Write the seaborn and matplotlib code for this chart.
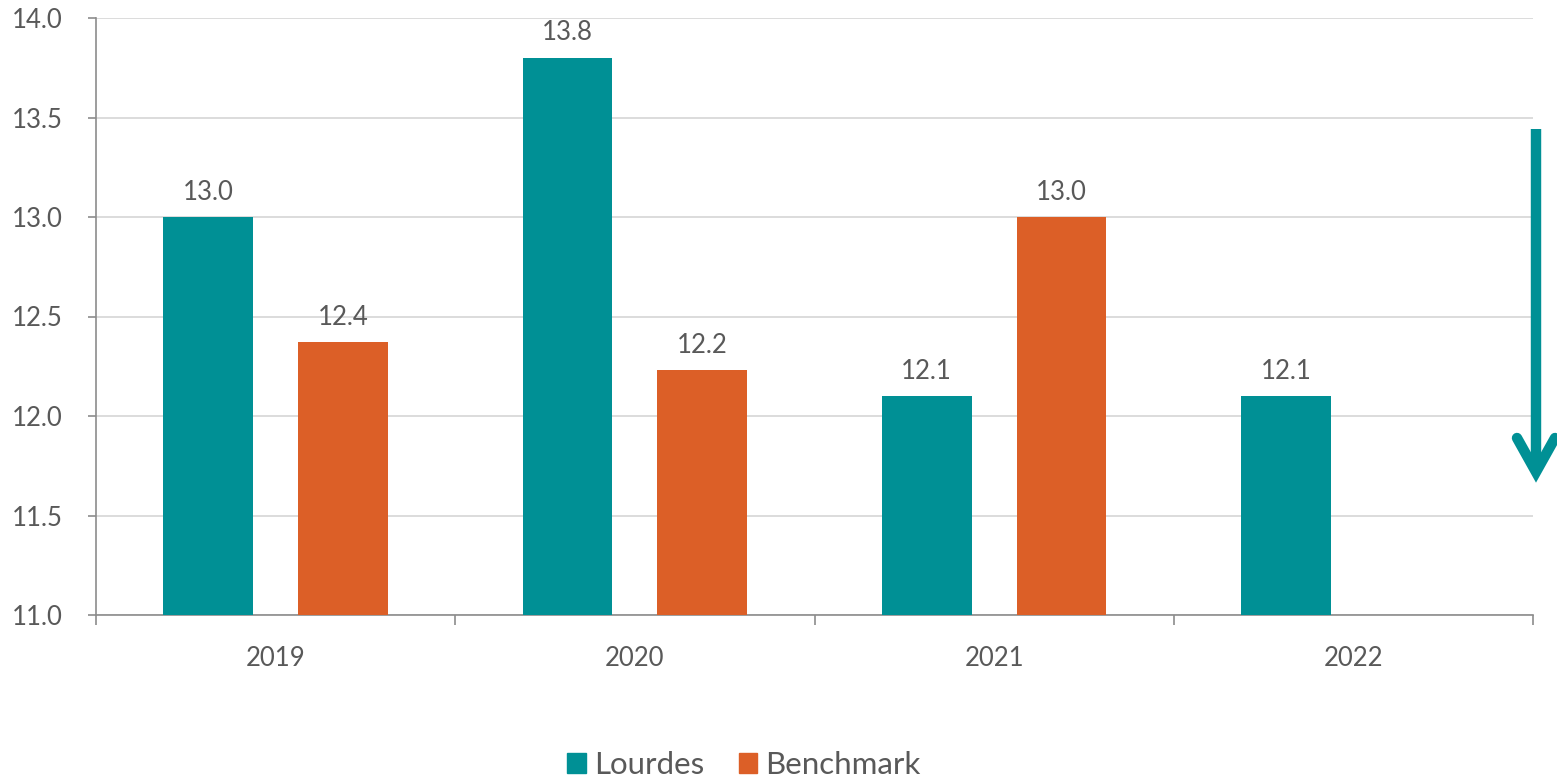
import numpy as np
import pandas as pd
import seaborn as sns
import matplotlib
matplotlib.use("Agg")
import matplotlib.pyplot as plt
from matplotlib.lines import Line2D
from matplotlib.ticker import FixedLocator, FormatStrFormatter

# Data
years = ["2019", "2020", "2021", "2022"]
lourdes = [13.0, 13.8, 12.1, 12.1]
benchmark = [12.37, 12.23, 13.0, np.nan]
series_names = ["Lourdes", "Benchmark"]
colors = ["#009095", "#DC5F27"]

df = pd.DataFrame({
    "year": years * 2,
    "value": lourdes + benchmark,
    "series": [series_names[0]] * 4 + [series_names[1]] * 4,
})

sns.set_theme(style="white")
plt.rcParams["font.family"] = ["Lato", "DejaVu Sans"]
text_color = "#595959"
axis_color = "#8C8C8C"

W, H = 1557, 778
fig = plt.figure(figsize=(W / 100, H / 100), dpi=100)
ax = fig.add_axes([96 / W, 1 - 615 / H, (1533 - 96) / W, (615 - 18) / H])

sns.barplot(data=df, x="year", y="value", hue="series", order=years,
            hue_order=series_names, palette=colors, width=0.75, gap=1 / 3,
            linewidth=0, saturation=1, ax=ax, legend=False, zorder=3)

for cont in ax.containers:
    ax.bar_label(cont, fmt="%.1f", padding=9, fontsize=18.5, color=text_color)

ax.set_ylim(11.0, 14.0)
ax.set_xlim(-0.5, 3.5)
ax.yaxis.set_major_locator(FixedLocator(np.arange(11.0, 14.01, 0.5)))
ax.yaxis.set_major_formatter(FormatStrFormatter("%.1f"))
ax.yaxis.grid(True, color="#D9D9D9", linewidth=1.3, zorder=0)
ax.set_axisbelow(True)
ax.set_xlabel("")
ax.set_ylabel("")

for side in ["top", "right"]:
    ax.spines[side].set_visible(False)
for side in ["left", "bottom"]:
    ax.spines[side].set_color(axis_color)
    ax.spines[side].set_linewidth(1.2)

ax.tick_params(axis="y", which="major", length=6, width=1.2, color=axis_color,
               labelsize=18.5, labelcolor=text_color, pad=18, left=True)
ax.tick_params(axis="x", which="major", length=0, labelsize=18.5,
               labelcolor=text_color, pad=22)
ax.xaxis.set_minor_locator(FixedLocator([-0.5, 0.5, 1.5, 2.5, 3.5]))
ax.tick_params(axis="x", which="minor", length=7, width=1.2, color=axis_color,
               bottom=True)

# Legend
handles = [plt.Rectangle((0, 0), 1, 1, color=c) for c in colors]
fig.legend(handles, series_names, loc="center", bbox_to_anchor=(744 / W, 1 - 765 / H),
           ncol=2, frameon=False, fontsize=22.5, labelcolor=text_color,
           handlelength=0.6, handleheight=0.6, handletextpad=0.25,
           columnspacing=1.1)

# Downward trend arrow at the right edge
arrow_kw = dict(color="#009095", linewidth=7.5, transform=fig.transFigure,
                solid_capstyle="butt")
fx = lambda x: x / W
fy = lambda y: 1 - y / H
fig.add_artist(Line2D([fx(1536), fx(1536)], [fy(129), fy(470)], **arrow_kw))
head_kw = dict(arrow_kw, solid_capstyle="round", solid_joinstyle="miter")
fig.add_artist(Line2D([fx(1517), fx(1536), fx(1555)], [fy(438), fy(472), fy(438)], **head_kw))

fig.savefig("out.png", dpi=100)
